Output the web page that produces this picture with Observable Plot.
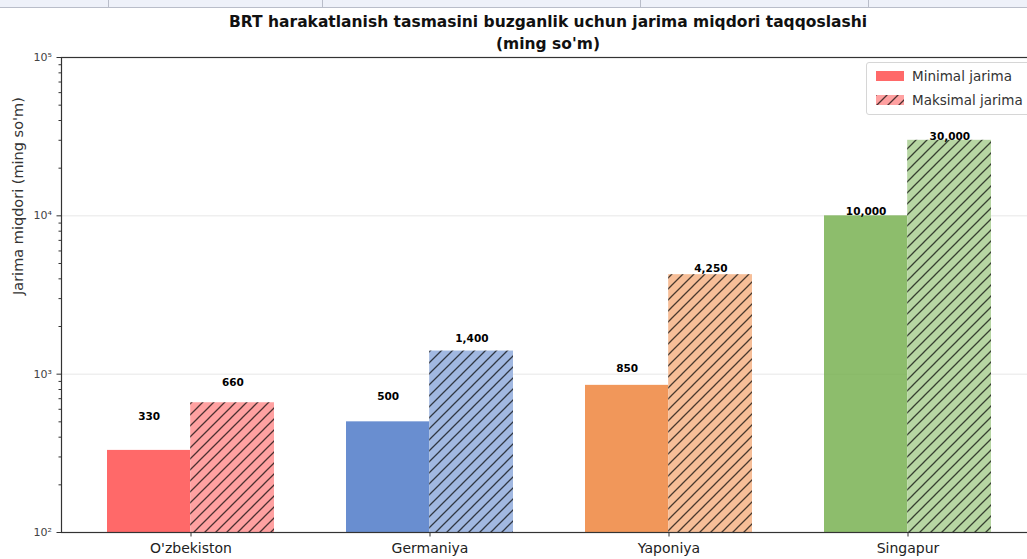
<!DOCTYPE html>
<html>
<head>
<meta charset="utf-8">
<script src="https://cdn.jsdelivr.net/npm/d3@7"></script>
<script src="https://cdn.jsdelivr.net/npm/@observablehq/plot@0.6"></script>
<style>
  html, body { margin: 0; padding: 0; background: #fff; overflow: hidden; }
  #wrap { position: relative; width: 1027px; height: 559px; overflow: hidden; font-family: "DejaVu Sans", sans-serif; }
  #strip { position: absolute; left: 0; top: 0; width: 1027px; height: 7px; background: #eef1f9; border-bottom: 1px solid #b9bdc9; }
  #strip div { position: absolute; top: 0; height: 7px; border-left: 1px solid #b9bdc9; }
  #title { position: absolute; left: 548px; top: 11px; transform: translateX(-50%); white-space: nowrap; text-align: center;
           font-weight: bold; font-size: 15.5px; line-height: 22px; color: #111; }
  #chart { position: absolute; left: 0; top: 0; width: 1045px; }
  #chart svg { max-width: none !important; }
  #legend { position: absolute; left: 866px; top: 62px; width: 175px; height: 51px; border: 1px solid #d6d6d6; border-radius: 3px;
            background: rgba(255,255,255,0.85); font-size: 13.5px; color: #333; }
  .lrow { position: absolute; left: 9px; height: 14px; display: flex; align-items: center; }
  .lrow svg { margin-right: 8px; }
</style>
</head>
<body>
<div id="wrap">
  <svg width="0" height="0" style="position:absolute">
    <defs id="defs"></defs>
  </svg>
  <div id="chart"></div>
  <div id="strip"><div style="left:108px"></div><div style="left:322px"></div><div style="left:640px"></div><div style="left:868px"></div></div>
  <div id="title"></div>
  <div id="legend"></div>
</div>
<script>
// ---- data ----
const countries = ["O'zbekiston", "Germaniya", "Yaponiya", "Singapur"];
const minFine = [330, 500, 850, 10000];
const maxFine = [660, 1400, 4250, 30000];
const seriesNames = ["Minimal jarima", "Maksimal jarima"];
const majorTicks = [100, 1000, 10000, 100000];
const titleLines = ["BRT harakatlanish tasmasini buzganlik uchun jarima miqdori taqqoslashi", "(ming so'm)"];
const yLabel = "Jarima miqdori (ming so'm)";

// ---- styles ----
const baseColors = ["#FF4444", "#4472C4", "#ED7D31", "#70AD47"];
const W = 1045, H = 559, ML = 61, MR = 7, MT = 57, MB = 27;
const padIn = 0.3, padOut = 0.191;
const step = (W - ML - MR) / (countries.length - padIn + 2 * padOut);
const half = step * (1 - padIn) / 2;
const labelPad = 185;

// hatch patterns
const defs = document.getElementById("defs");
baseColors.forEach((c, i) => {
  defs.insertAdjacentHTML("beforeend",
    `<pattern id="hatch${i}" patternUnits="userSpaceOnUse" width="11" height="11">
       <rect width="11" height="11" fill="${c}" fill-opacity="0.5"></rect>
       <path d="M-1,1 L1,-1 M0,11 L11,0 M10,12 L12,10" stroke="#000" stroke-opacity="0.7" stroke-width="1.3"></path>
     </pattern>`);
});

const rows = countries.map((c, i) => ({
  country: c, min: minFine[i], max: maxFine[i], color: baseColors[i], hatch: `url(#hatch${i})`
}));

const sup = {"0":"⁰","1":"¹","2":"²","3":"³","4":"⁴","5":"⁵","6":"⁶","7":"⁷","8":"⁸","9":"⁹"};
const fmtPow = d => "10" + String(Math.round(Math.log10(d))).split("").map(ch => sup[ch]).join("");
const minorTicks = [];
for (let i = 0; i < majorTicks.length - 1; i++) for (let k = 2; k <= 9; k++) minorTicks.push(majorTicks[i] * k);
const fmt = d3.format(",");

const plot = Plot.plot({
  width: W, height: H,
  marginLeft: ML, marginRight: MR, marginTop: MT, marginBottom: MB,
  style: { fontFamily: "DejaVu Sans, sans-serif", background: "transparent", overflow: "visible", maxWidth: "none" },
  x: { domain: countries, paddingInner: padIn, paddingOuter: padOut, align: 0.5 },
  y: { type: "log", domain: [majorTicks[0], majorTicks[majorTicks.length - 1]] },
  color: { type: "identity" },
  marks: [
    Plot.gridY(majorTicks, { stroke: "#b0b0b0", strokeOpacity: 0.3, strokeWidth: 1 }),
    Plot.barY(rows, { x: "country", y1: majorTicks[0], y2: "min", fill: "color", fillOpacity: 0.8, insetRight: half }),
    Plot.barY(rows, { x: "country", y1: majorTicks[0], y2: "max", fill: "#fff", insetLeft: half - 0.6 }),
    Plot.barY(rows, { x: "country", y1: majorTicks[0], y2: "max", fill: "hatch", insetLeft: half - 0.6 }),
    Plot.text(rows, { x: "country", y: d => d.min + labelPad, text: d => fmt(d.min), dx: -half / 2, lineAnchor: "bottom",
                      fontWeight: "bold", fontSize: 10.5, fill: "#000" }),
    Plot.text(rows, { x: "country", y: d => d.max + labelPad, text: d => fmt(d.max), dx: half / 2, lineAnchor: "bottom",
                      fontWeight: "bold", fontSize: 10.5, fill: "#000" }),
    Plot.axisY(minorTicks, { tickSize: 2.5, tickFormat: () => "", stroke: "#333", label: null }),
    Plot.axisY(majorTicks, { tickSize: 4.5, tickPadding: 5, tickFormat: fmtPow, fontSize: 11, fill: "#444", stroke: "#333", label: null }),
    Plot.axisX({ tickSize: 4.5, tickPadding: 6, fontSize: 14, fill: "#222", stroke: "#333", label: null }),
    Plot.text([yLabel], { frameAnchor: "left", rotate: -90, dx: -43, fontSize: 14.5, fill: "#333", text: d => d }),
    Plot.frame({ stroke: "#333", strokeWidth: 1.2 })
  ]
});
document.getElementById("chart").appendChild(plot);

document.getElementById("title").innerHTML = titleLines.map(t => `<div>${t.replace(/'/g, "&#39;")}</div>`).join("");

const legend = document.getElementById("legend");
const sw = [
  `<svg width="28" height="10"><rect width="28" height="10" fill="${baseColors[0]}" fill-opacity="0.8"></rect></svg>`,
  `<svg width="28" height="10"><rect width="28" height="10" fill="url(#hatch0)"></rect></svg>`
];
seriesNames.forEach((n, i) => {
  legend.insertAdjacentHTML("beforeend", `<div class="lrow" style="top:${6 + i * 24}px">${sw[i]}<span>${n}</span></div>`);
});
</script>
</body>
</html>
